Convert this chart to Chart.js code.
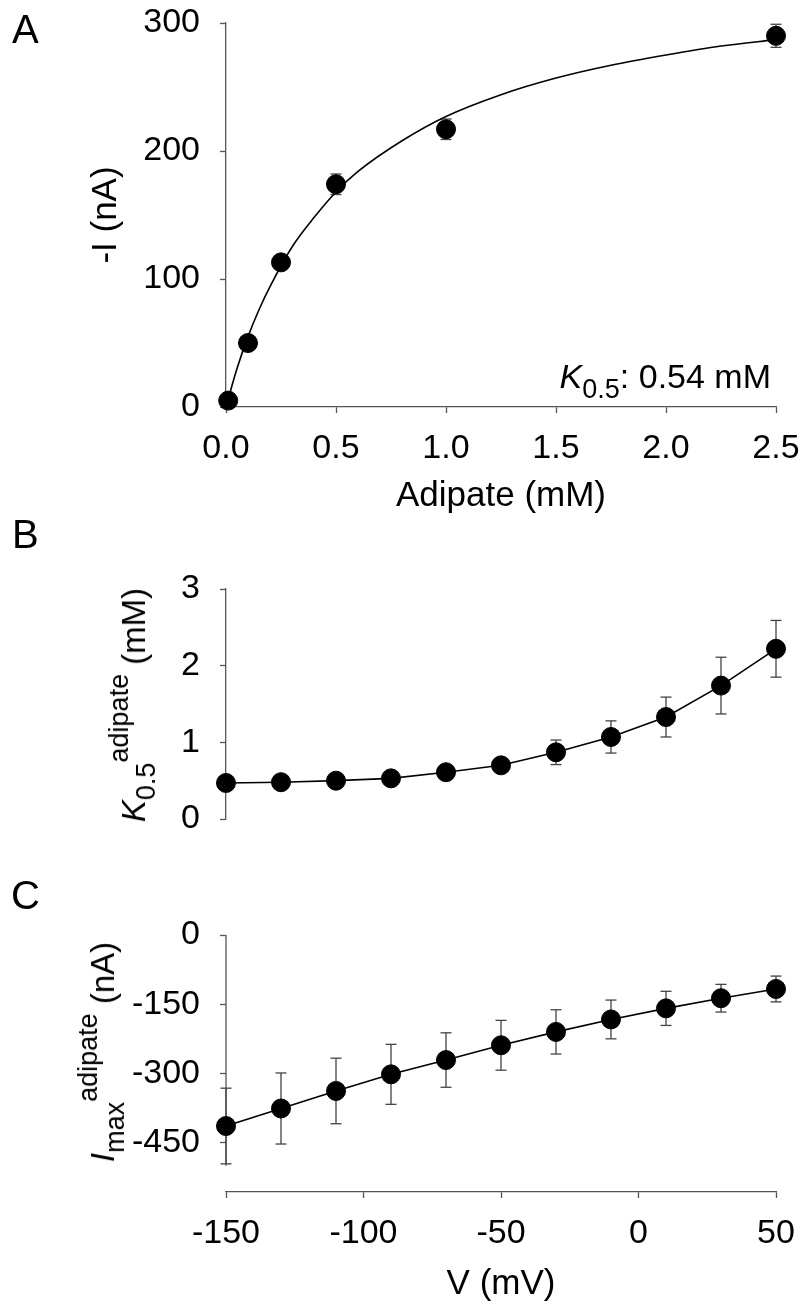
<!DOCTYPE html>
<html>
<head>
<meta charset="utf-8">
<title>Adipate kinetics</title>
<script src="https://cdn.jsdelivr.net/npm/chart.js@4.4.1/dist/chart.umd.min.js"></script>
<style>
  html, body { margin: 0; padding: 0; background: #fff; }
  #fig {
    position: relative; width: 804px; height: 1305px; overflow: hidden;
    font-family: "Liberation Sans", Arial, sans-serif; color: #000;
  }
  #fig canvas { position: absolute; left: 0; }
  .letter { position: absolute; font-size: 40px; line-height: 40px; white-space: nowrap; }
  .note { position: absolute; font-size: 34px; line-height: 40px; white-space: nowrap; }
  .ytitle {
    position: absolute; font-size: 33px; line-height: 40px; white-space: nowrap;
    transform: translate(-50%, -50%) rotate(-90deg);
  }
  .sub, .sup { font-size: 27px; line-height: 0; position: relative; }
  .sub { top: 10px; }
  .sup { top: -17px; }
</style>
</head>
<body>
<div id="fig">
  <canvas id="chartA" width="804" height="525" style="top:0px;width:804px;height:525px"></canvas>
  <canvas id="chartB" width="804" height="360" style="top:500px;width:804px;height:360px"></canvas>
  <canvas id="chartC" width="804" height="460" style="top:850px;width:804px;height:460px"></canvas>

  <div class="letter" style="left:12px; top:9.1px">A</div>
  <div class="letter" style="left:12px; top:514.1px">B</div>
  <div class="letter" style="left:11px; top:875.1px">C</div>

  <div class="note" style="right:33px; top:356.2px"><i>K</i><span class="sub">0.5</span>: 0.54 mM</div>
  <div class="ytitle" style="left:133.6px; top:705px"><i>K</i><span class="sub">0.5</span><span class="sup">adipate</span> (mM)</div>
  <div class="ytitle" style="left:102.6px; top:1052px"><i>I</i><span class="sub">max</span><span class="sup">adipate</span> (nA)</div>
</div>

<script>
// Style constants
const FONT = '"Liberation Sans", Arial, sans-serif';
const AXIS_COLOR = '#555';
const ERR_COLOR = '#444';
const TICK_SIZE = 34;
const TITLE_SIZE = 35;

// Panel A: current vs adipate concentration
const adipateMM = [0.01, 0.1, 0.25, 0.5, 1.0, 2.5];
const currentNA = [5, 50, 113, 174, 217, 290];
const currentErr = [3, 4, 4, 8, 8, 9];
// fitted curve
const fitX = [0, 0.05, 0.1, 0.15, 0.2, 0.3, 0.4, 0.5, 0.6, 0.8, 1.0, 1.25, 1.5, 1.75, 2.0, 2.25, 2.5];
const fitY = [0, 30, 55, 76, 94, 125, 148, 168, 184, 208, 227, 244, 257, 267, 275, 282, 287];
const ticksConc = [0, 0.5, 1.0, 1.5, 2.0, 2.5];
const ticksCurrent = [0, 100, 200, 300];

// Panels B and C: voltage dependence
const voltageMV = [-150, -130, -110, -90, -70, -50, -30, -10, 10, 30, 50];
const k05 = [0.47, 0.48, 0.50, 0.53, 0.61, 0.70, 0.87, 1.07, 1.33, 1.74, 2.22];
const k05Err = [0.03, 0.03, 0.04, 0.05, 0.06, 0.07, 0.16, 0.21, 0.26, 0.37, 0.37];
const imax = [-414, -376, -338, -302, -271, -239, -210, -183, -159, -137, -117];
const imaxErr = [82, 77, 71, 65, 59, 54, 48, 42, 37, 30, 28];
const ticksV = [-150, -100, -50, 0, 50];
const ticksK = [0, 1, 2, 3];
const ticksImax = [-450, -300, -150, 0];

Chart.defaults.font.family = FONT;
Chart.defaults.color = '#000';

function toXY(xs, ys) {
    return xs.map((x, i) => ({ x, y: ys[i] }));
}

// one dataset holding all error bars, gaps between them
function errorBars(xs, ys, errs) {
    const pts = [];
    xs.forEach((x, i) => {
        pts.push({ x, y: ys[i] - errs[i] }, { x, y: ys[i] + errs[i] }, { x, y: null });
    });
    return {
        data: pts,
        showLine: true,
        spanGaps: false,
        borderColor: ERR_COLOR,
        borderWidth: 1.3,
        pointStyle: 'line',
        pointRadius: 5.5,
        pointBorderColor: ERR_COLOR,
        pointBorderWidth: 1.3,
        clip: false
    };
}

function markers(xs, ys, withLine) {
    return {
        data: toXY(xs, ys),
        showLine: withLine,
        borderColor: '#000',
        borderWidth: 1.6,
        pointRadius: 9.5,
        pointBackgroundColor: '#000',
        pointBorderColor: '#000',
        pointBorderWidth: 1,
        clip: false
    };
}

function tickAxis({ min, max, ticks, fmt, size, horizontal, labelPad, title, showBorder = true }) {
    return {
        type: 'linear',
        min, max,
        afterBuildTicks: s => { s.ticks = ticks.map(value => ({ value })); },
        afterFit: s => {
            // fixed box size; label overflow is handled by the layout padding
            if (horizontal) { s.height = size; } else { s.width = size; }
            s.paddingTop = 0;
            s.paddingBottom = 0;
            s.paddingLeft = 0;
            s.paddingRight = 0;
        },
        ticks: {
            font: { size: TICK_SIZE },
            color: '#000',
            padding: labelPad,
            autoSkip: false,
            maxRotation: 0,
            callback: fmt
        },
        grid: {
            display: true,
            drawOnChartArea: false,
            drawTicks: true,
            tickLength: 6,
            tickWidth: 1.3,
            tickColor: AXIS_COLOR
        },
        border: { display: showBorder, color: AXIS_COLOR, width: 1.3 },
        title: title || { display: false }
    };
}

function axisTitle(text, padding) {
    return { display: true, text, font: { size: TITLE_SIZE }, color: '#000', padding };
}

const baseOptions = {
    responsive: false,
    animation: false,
    devicePixelRatio: 1,
    events: [],
    plugins: { legend: { display: false }, tooltip: { enabled: false } }
};

// A
new Chart(document.getElementById('chartA'), {
    type: 'scatter',
    data: {
        datasets: [
            markers(adipateMM, currentNA, false),
            {
                data: toXY(fitX, fitY),
                showLine: true,
                pointRadius: 0,
                borderColor: '#000',
                borderWidth: 1.6,
                cubicInterpolationMode: 'monotone',
                clip: false
            },
            errorBars(adipateMM, currentNA, currentErr)
        ]
    },
    options: {
        ...baseOptions,
        layout: { padding: { top: 23, right: 28, bottom: 0, left: 0 } },
        scales: {
            x: tickAxis({
                min: 0, max: 2.5, ticks: ticksConc, fmt: v => v.toFixed(1),
                size: 118, horizontal: true, labelPad: 15.4,
                title: axisTitle('Adipate (mM)', { top: 0, bottom: 8.1 })
            }),
            y: tickAxis({
                min: 0, max: 300, ticks: ticksCurrent, fmt: v => String(v),
                size: 226, horizontal: false, labelPad: 20,
                title: axisTitle('-I (nA)', { top: 84.9, bottom: 0 })
            })
        }
    }
});

// B
new Chart(document.getElementById('chartB'), {
    type: 'scatter',
    data: {
        datasets: [
            markers(voltageMV, k05, true),
            errorBars(voltageMV, k05, k05Err)
        ]
    },
    options: {
        ...baseOptions,
        layout: { padding: { top: 89, right: 28, bottom: 41, left: 0 } },
        scales: {
            x: { type: 'linear', min: -150, max: 50, display: false },
            y: tickAxis({
                min: 0, max: 3, ticks: ticksK, fmt: v => String(v),
                size: 226, horizontal: false, labelPad: 20
            })
        }
    }
});

// C: y axis line stops at -500, detached from the x axis below
new Chart(document.getElementById('chartC'), {
    type: 'scatter',
    data: {
        datasets: [
            markers(voltageMV, imax, true),
            errorBars(voltageMV, imax, imaxErr),
            {
                data: [{ x: -150, y: 0 }, { x: -150, y: -500 }],
                showLine: true,
                pointRadius: 0,
                borderColor: AXIS_COLOR,
                borderWidth: 1.3,
                clip: false
            }
        ]
    },
    options: {
        ...baseOptions,
        layout: { padding: { top: 85, right: 28, bottom: 0, left: 0 } },
        scales: {
            x: tickAxis({
                min: -150, max: 50, ticks: ticksV, fmt: v => String(v),
                size: 118, horizontal: true, labelPad: 15.4,
                title: axisTitle('V (mV)', { top: 0, bottom: 4.8 })
            }),
            y: tickAxis({
                min: -557, max: 0, ticks: ticksImax, fmt: v => String(v),
                size: 226, horizontal: false, labelPad: 20, showBorder: false
            })
        }
    }
});
</script>
</body>
</html>
